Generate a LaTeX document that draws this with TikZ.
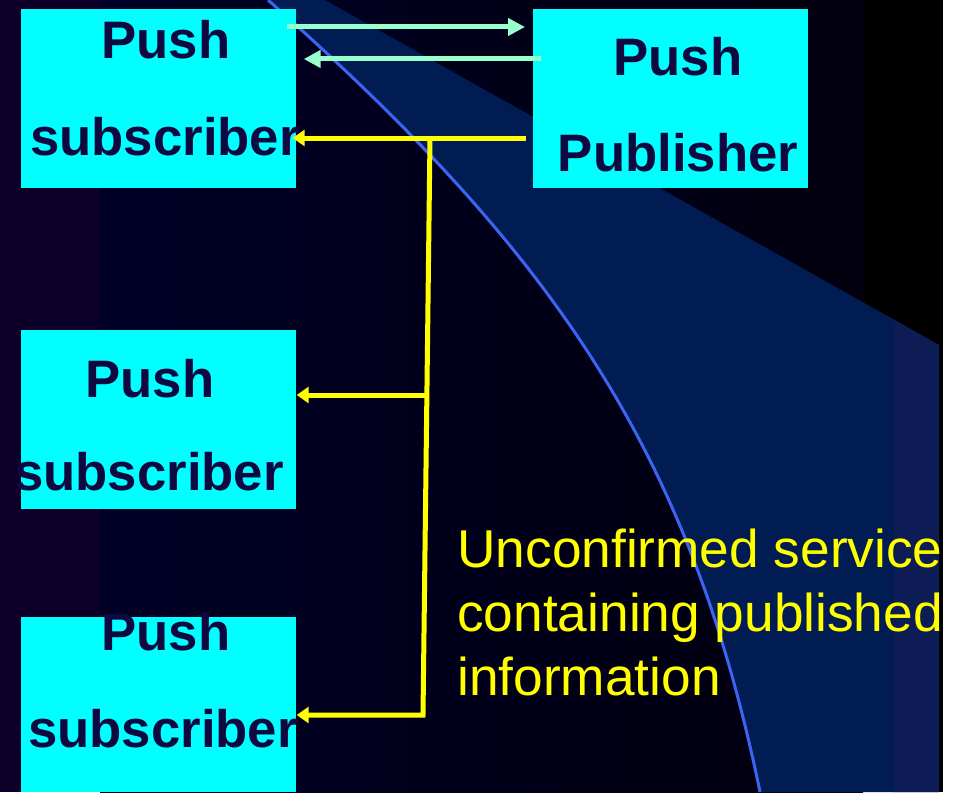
\documentclass[tikz,border=0pt]{standalone}
\usepackage{fontspec}
\setmainfont{Liberation Sans}
\usetikzlibrary{arrows.meta}
\definecolor{bgnavy}{RGB}{0,0,38}
\definecolor{bgdark}{RGB}{2,0,14}
\definecolor{bgplum}{RGB}{12,0,40}
\definecolor{band}{RGB}{0,28,82}
\definecolor{bandedge}{RGB}{14,28,85}
\definecolor{curveblue}{RGB}{60,100,240}
\definecolor{boxcyan}{RGB}{0,255,255}
\definecolor{boxink}{RGB}{16,8,64}
\definecolor{mint}{RGB}{153,255,204}
\definecolor{signal}{RGB}{255,255,0}
\begin{document}
\begin{tikzpicture}[
  x=0.2mm, y=-0.2mm,
  every node/.style={font=\fontsize{30}{36}\selectfont},
  cbox/.style={
    fill=boxcyan,
    anchor=north west,
    inner sep=0pt,
    minimum width=5.5cm,
    minimum height=3.58cm
  },
  lbl/.style={anchor=base, inner sep=0pt, text=boxink,
    font=\fontsize{30}{36}\selectfont\bfseries},
  note/.style={anchor=north west, align=left, inner sep=0pt, text=signal,
    font=\fontsize{30.3}{36.4}\selectfont},
  glink/.style={draw=mint, line width=1mm, -{Triangle[length=3.4mm,width=3.4mm]}},
  ylink/.style={draw=signal, line width=1mm, -{Triangle[length=2.4mm,width=3.2mm]}}
]
\useasboundingbox (0,0) rectangle (964,792);
\fill[white] (0,0) rectangle (964,792);
\shade[left color=bgnavy, right color=bgdark] (100,0) rectangle (863,792);
\fill[bgplum] (0,0) rectangle (100,792);
\fill[black] (863,0) rectangle (943,792);
\fill[band] (325,0) -- (939,345) -- (939,792) -- (760,792)
  .. controls (690,452) and (555,254) .. (268,0) -- cycle;
\fill[bandedge] (893,319) -- (939,345) -- (939,792) -- (893,792) -- cycle;
\draw[curveblue, line width=0.6mm] (268,0) .. controls (555,254) and (690,452) .. (760,792);

\node[cbox] (sub1) at (21,9) {};
\node[cbox] (pub) at (533,9) {};
\node[cbox] (sub2) at (21,330) {};
\node[cbox, minimum height=3.5cm] (sub3) at (21,617) {};

\node[lbl] (sub1a) at (166,59) {Push};
\node[lbl] (sub1b) at (165,155) {subscriber};
\node[lbl] (puba) at (678,76) {Push};
\node[lbl] (pubb) at (678,172) {Publisher};
\node[lbl] (sub2a) at (150,397) {Push};
\node[lbl] (sub2b) at (149,490) {subscriber};
\node[lbl] (sub3a) at (166,650) {Push};
\node[lbl] (sub3b) at (163,747) {subscriber};

\draw[glink] ([shift={(-10,18)}]sub1.north east) -- ([shift={(-8,18)}]pub.north west);
\draw[glink] ([shift={(8,50)}]pub.north west) -- ([shift={(7,50)}]sub1.north east);

\coordinate (jtop) at (430,138);
\coordinate (jmid) at (427,395);
\coordinate (jbot) at (423,715);
\draw[ylink] ([shift={(-7,129)}]pub.north west) -- ([shift={(-4,129)}]sub1.north east);
\draw[ylink] (jtop) -- (jbot) -- (sub3.east |- jbot);
\draw[ylink] (jmid) -- (sub2.east |- jmid);

\node[note] (msg) at (457,529) {Unconfirmed service\\containing published\\information};
\end{tikzpicture}
\end{document}
